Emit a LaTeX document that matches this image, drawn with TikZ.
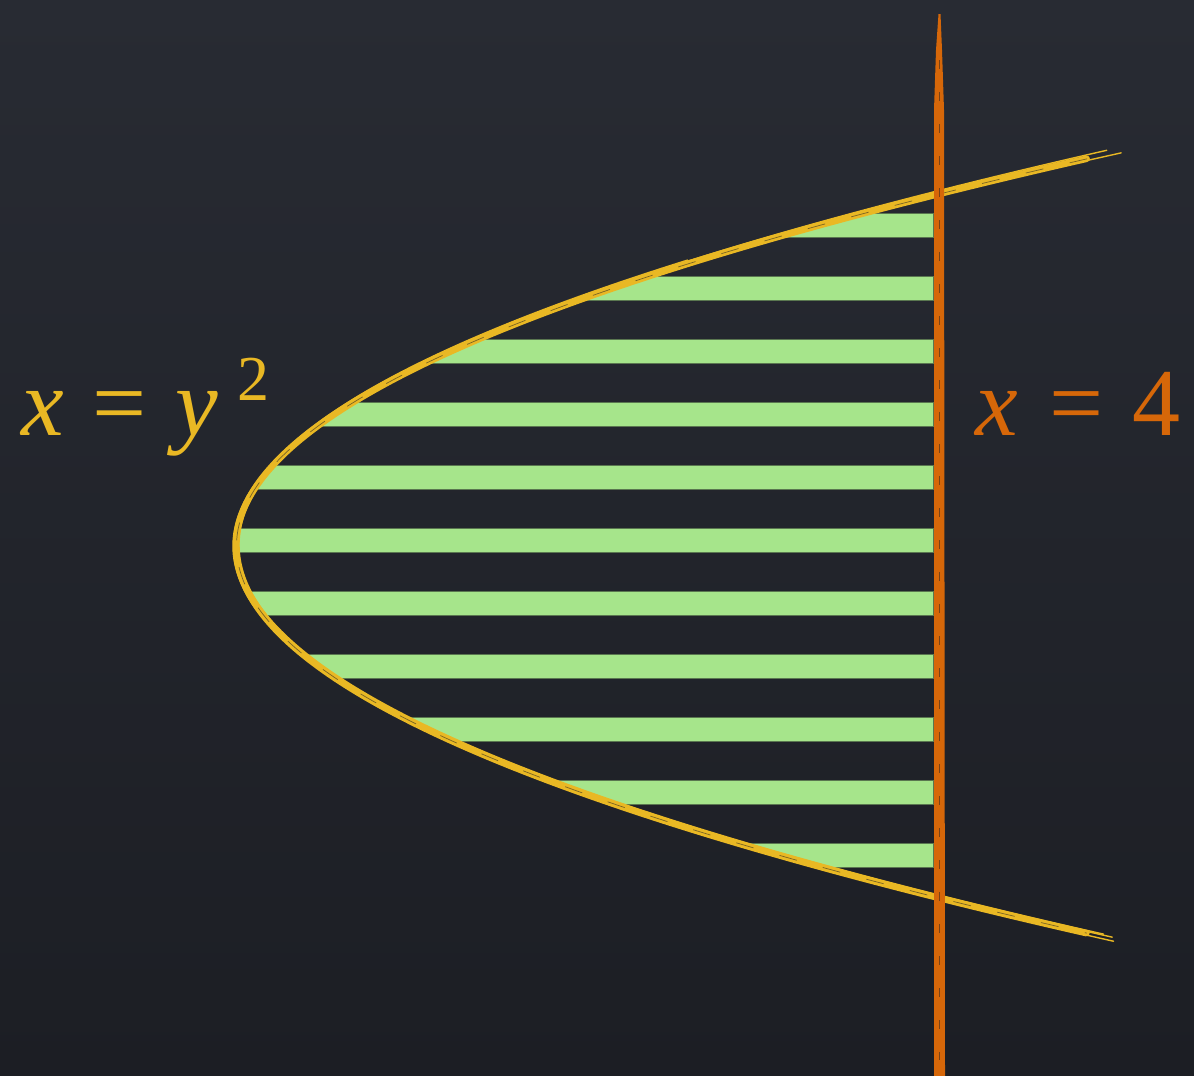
\documentclass[tikz,border=0pt]{standalone}
\usepackage{fontspec}
\setmainfont{Liberation Serif}
\definecolor{bgtop}{HTML}{282B33}
\definecolor{bgbot}{HTML}{1C1E24}
\definecolor{chalkyellow}{HTML}{E9B824}
\definecolor{chalkorange}{HTML}{D66709}
\definecolor{stripegreen}{HTML}{A6E58B}
\definecolor{stripeedge}{HTML}{5A7750}
\tikzset{
  stripe/.style={fill=stripegreen, draw=stripeedge, line width=1.2pt},
  curvemain/.style={draw=chalkyellow, line width=6.5pt, line cap=round},
  curvestrand/.style={draw=chalkyellow, line width=1.4pt, line cap=round},
  curvegrain/.style={draw=bgbot, line width=0.7pt, opacity=0.55, dash pattern=on 18pt off 27pt},
  vline/.style={fill=chalkorange},
  lbl/.style={inner sep=0pt, anchor=base west, font=\fontsize{96}{110}\selectfont}
}
\begin{document}
\begin{tikzpicture}[x=1pt,y=-1pt]
\useasboundingbox (0,0) rectangle (1194,1076);
\shade[top color=bgtop, bottom color=bgbot] (0,0) rectangle (1194,1076);
% stripes clipped by the parabola
\begin{scope}
  \clip plot[domain=-2.3:2.3, samples=90, smooth] ({236+175.75*\x*\x},{546+176*\x}) -- cycle;
  \foreach \i in {-5,...,5} {
    \path[stripe] (180,{540.5+63*\i-12}) rectangle (934,{540.5+63*\i+12});
  }
\end{scope}
% parabola x = y^2
\draw[curvemain] plot[domain=-2.2:2.2, samples=120, smooth] ({236+175.75*\x*\x},{546+176*\x});
\draw[curvestrand] plot[domain=-2.24:2.23, samples=120, smooth] ({233+177*\x*\x},{546+175.5*\x});
\draw[curvestrand] plot[domain=-2.23:2.24, samples=120, smooth] ({239+174.5*\x*\x},{545+177*\x});
\draw[curvestrand] plot[domain=-1.6:2.22, samples=100, smooth] ({237+176*\x*\x},{542.5+176.5*\x});
\draw[curvegrain] plot[domain=-2.2:2.2, samples=120, smooth] ({236.5+175.75*\x*\x},{546+176*\x});
% vertical line x = 4
\path[vline] (938.5,14) -- (940.5,14) -- (942,50) -- (944,110) -- (945,1076)
  -- (934,1076) -- (934,110) -- (936,50) -- cycle;
\draw[draw=bgbot, opacity=0.5, line width=0.8pt, dash pattern=on 9pt off 23pt] (939,60) -- (939,1060);
% labels
\node[lbl, text=chalkyellow] (lparab) at (21,435)
  {\textit{x}\hspace{0.3em}=\hspace{0.3em}\textit{y}\hspace{0.2em}\raisebox{35pt}{\fontsize{64}{64}\selectfont 2}};
\node[lbl, text=chalkorange] (lline) at (975,435)
  {\textit{x}\hspace{0.33em}=\hspace{0.3em}4};
\end{tikzpicture}
\end{document}
